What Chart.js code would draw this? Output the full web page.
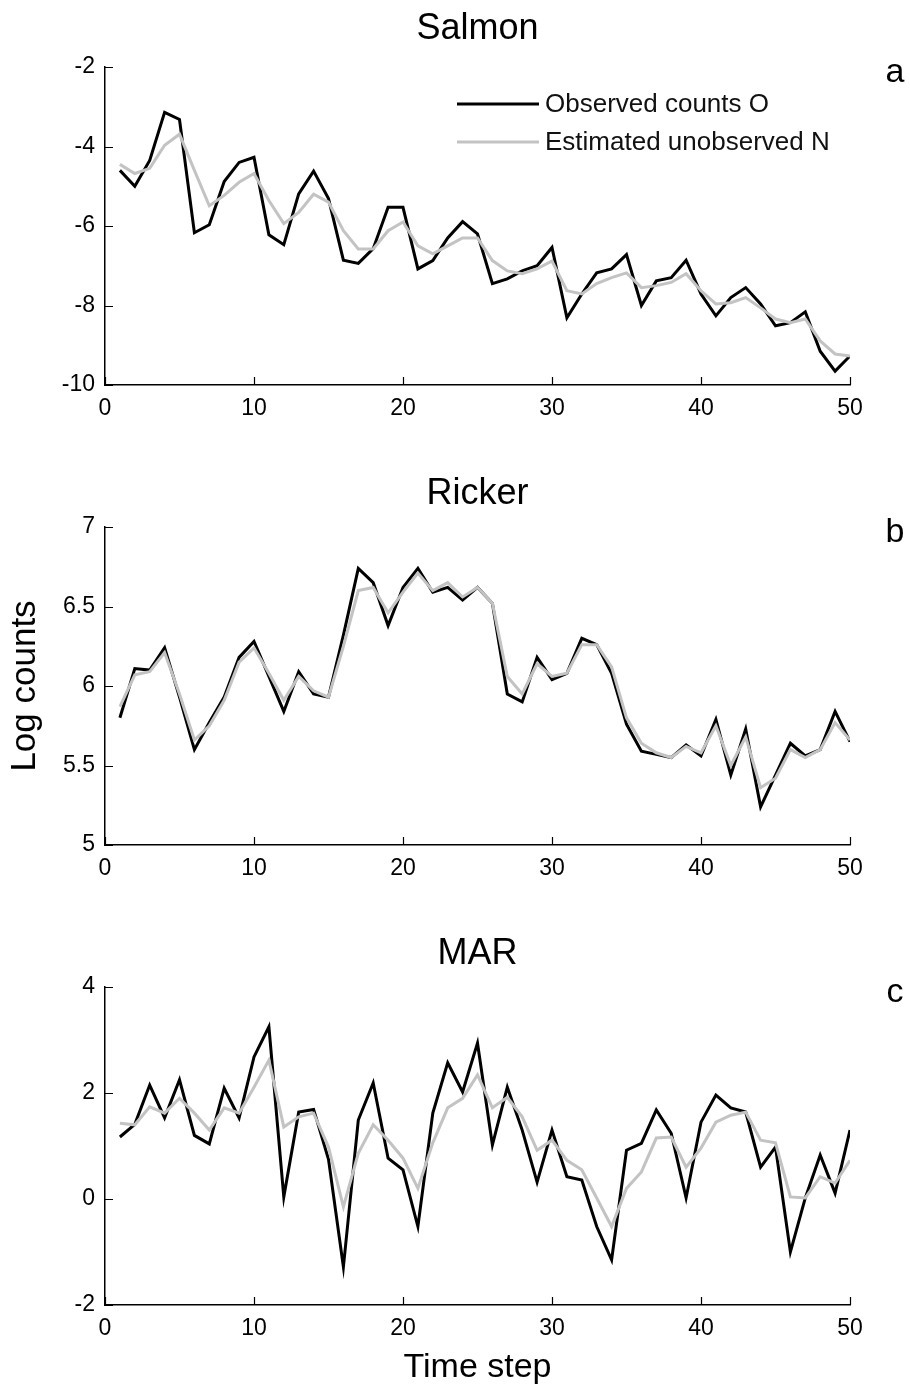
<!DOCTYPE html>
<html>
<head>
<meta charset="utf-8">
<title>Observed vs estimated log counts</title>
<script src="https://cdn.jsdelivr.net/npm/chart.js@4.4.0/dist/chart.umd.min.js"></script>
<style>
  html, body { margin: 0; padding: 0; background: #fff; }
  #figure { position: relative; width: 910px; height: 1391px; }
  #figure canvas { position: absolute; left: 0; }
</style>
</head>
<body>
<div id="figure">
  <canvas id="chartSalmon" width="910" height="450" style="top:0"></canvas>
  <canvas id="chartRicker" width="910" height="460" style="top:450px"></canvas>
  <canvas id="chartMar" width="910" height="481" style="top:910px"></canvas>
</div>
<script>
const timeSteps = [1, 2, 3, 4, 5, 6, 7, 8, 9, 10, 11, 12, 13, 14, 15, 16, 17, 18, 19, 20,
  21, 22, 23, 24, 25, 26, 27, 28, 29, 30, 31, 32, 33, 34, 35, 36, 37, 38, 39, 40,
  41, 42, 43, 44, 45, 46, 47, 48, 49, 50];

const salmonObserved = [-4.60, -5.00, -4.35, -3.14, -3.32, -6.17, -5.97, -4.88, -4.40, -4.27,
  -6.22, -6.47, -5.19, -4.62, -5.31, -6.86, -6.94, -6.57, -5.53, -5.53,
  -7.08, -6.87, -6.30, -5.89, -6.20, -7.45, -7.33, -7.13, -7.00, -6.54,
  -8.31, -7.71, -7.18, -7.08, -6.72, -8.00, -7.38, -7.30, -6.86, -7.71,
  -8.26, -7.80, -7.55, -7.96, -8.51, -8.43, -8.16, -9.15, -9.65, -9.27];
const salmonEstimated = [-4.45, -4.68, -4.55, -3.97, -3.69, -4.60, -5.49, -5.23, -4.90, -4.68,
  -5.36, -5.94, -5.66, -5.20, -5.40, -6.12, -6.58, -6.58, -6.12, -5.90,
  -6.50, -6.70, -6.50, -6.30, -6.30, -6.87, -7.13, -7.20, -7.08, -6.88,
  -7.63, -7.71, -7.45, -7.30, -7.18, -7.55, -7.50, -7.42, -7.20, -7.63,
  -7.96, -7.93, -7.80, -8.06, -8.34, -8.43, -8.34, -8.89, -9.22, -9.27];

const rickerObserved = [5.80, 6.11, 6.10, 6.24, 5.93, 5.60, 5.77, 5.93, 6.18, 6.28,
  6.06, 5.84, 6.09, 5.95, 5.93, 6.32, 6.74, 6.65, 6.38, 6.62,
  6.74, 6.59, 6.62, 6.54, 6.62, 6.52, 5.95, 5.90, 6.18, 6.04,
  6.08, 6.30, 6.26, 6.08, 5.76, 5.59, 5.57, 5.55, 5.63, 5.56,
  5.79, 5.44, 5.73, 5.24, 5.44, 5.64, 5.56, 5.60, 5.84, 5.65];
const rickerEstimated = [5.87, 6.07, 6.09, 6.21, 5.95, 5.66, 5.75, 5.91, 6.15, 6.24,
  6.08, 5.91, 6.06, 5.97, 5.93, 6.25, 6.60, 6.62, 6.46, 6.59,
  6.71, 6.60, 6.65, 6.56, 6.62, 6.52, 6.06, 5.95, 6.14, 6.06,
  6.08, 6.26, 6.26, 6.12, 5.80, 5.64, 5.58, 5.55, 5.62, 5.58,
  5.75, 5.50, 5.68, 5.36, 5.42, 5.60, 5.55, 5.60, 5.77, 5.66];

const marObserved = [1.17, 1.41, 2.15, 1.53, 2.25, 1.20, 1.04, 2.09, 1.53, 2.68,
  3.25, 0.04, 1.64, 1.69, 0.75, -1.28, 1.49, 2.19, 0.77, 0.55,
  -0.52, 1.62, 2.57, 2.02, 2.94, 1.02, 2.11, 1.30, 0.32, 1.30,
  0.42, 0.36, -0.52, -1.15, 0.92, 1.05, 1.68, 1.24, 0.02, 1.45,
  1.96, 1.72, 1.64, 0.60, 0.98, -1.00, 0.02, 0.83, 0.11, 1.30];
const marEstimated = [1.43, 1.40, 1.74, 1.62, 1.90, 1.62, 1.30, 1.72, 1.62, 2.11,
  2.62, 1.36, 1.55, 1.62, 0.98, -0.15, 0.86, 1.40, 1.11, 0.77,
  0.20, 1.06, 1.72, 1.90, 2.34, 1.72, 1.92, 1.55, 0.92, 1.11,
  0.73, 0.55, 0.02, -0.52, 0.20, 0.51, 1.15, 1.17, 0.60, 0.96,
  1.45, 1.58, 1.64, 1.11, 1.06, 0.04, 0.02, 0.42, 0.30, 0.73];

const xTicks = [0, 10, 20, 30, 40, 50];

(() => {
  const FONT = "'Liberation Sans', Arial, Helvetica, sans-serif";
  const OBS_COLOR = "#000000";
  const EST_COLOR = "#c3c3c3";

  Chart.defaults.font.family = FONT;
  Chart.defaults.color = "#000";

  function toPoints(values) {
    return values.map((v, i) => ({ x: timeSteps[i], y: v }));
  }

  // matlab style ticks pointing into the axes
  const inwardTicks = {
    id: "inwardTicks",
    afterDraw(chart) {
      const { ctx, chartArea, scales } = chart;
      ctx.save();
      ctx.strokeStyle = "#000";
      ctx.lineWidth = 1.2;
      ctx.beginPath();
      scales.x.ticks.forEach((t) => {
        const px = Math.round(scales.x.getPixelForValue(t.value)) + 0.5;
        ctx.moveTo(px, chartArea.bottom);
        ctx.lineTo(px, chartArea.bottom - 8);
      });
      scales.y.ticks.forEach((t) => {
        const py = Math.round(scales.y.getPixelForValue(t.value)) + 0.5;
        ctx.moveTo(chartArea.left, py);
        ctx.lineTo(chartArea.left + 8, py);
      });
      ctx.stroke();
      ctx.restore();
    },
  };

  // title centred over the plot area (not the canvas), plus the panel letter
  const panelText = {
    id: "panelText",
    afterDraw(chart, args, opts) {
      if (!opts) return;
      const { ctx, chartArea } = chart;
      ctx.save();
      ctx.fillStyle = "#000";
      ctx.textAlign = "center";
      ctx.textBaseline = "middle";
      if (opts.title) {
        ctx.font = `36px ${FONT}`;
        ctx.fillText(opts.title, (chartArea.left + chartArea.right) / 2, chartArea.top - opts.titleGap);
      }
      if (opts.letter) {
        ctx.font = `34px ${FONT}`;
        ctx.textBaseline = "alphabetic";
        ctx.fillText(opts.letter, chartArea.right + 45, chartArea.top + 15);
      }
      ctx.restore();
    },
  };

  // legend drawn inside the first panel, top right
  const insideLegend = {
    id: "insideLegend",
    afterDraw(chart, args, opts) {
      if (!opts || !opts.display) return;
      const { ctx, chartArea } = chart;
      const rows = chart.data.datasets.slice().reverse();
      ctx.save();
      ctx.font = `26px ${FONT}`;
      ctx.textAlign = "left";
      ctx.textBaseline = "middle";
      rows.forEach((ds, i) => {
        const y = chartArea.top + 37 + i * 38;
        const x0 = chartArea.left + 352;
        ctx.strokeStyle = ds.borderColor;
        ctx.lineWidth = 3;
        ctx.beginPath();
        ctx.moveTo(x0, y);
        ctx.lineTo(x0 + 82, y);
        ctx.stroke();
        ctx.fillStyle = "#111";
        ctx.fillText(ds.label, x0 + 88, y + 1);
      });
      ctx.restore();
    },
  };

  function makePanel(canvasId, cfg) {
    const canvas = document.getElementById(canvasId);
    if (!canvas) {
      return null;
    }
    return new Chart(canvas, {
      type: "line",
      data: {
        datasets: [
          {
            label: "Estimated unobserved N",
            data: toPoints(cfg.estimated),
            borderColor: EST_COLOR,
            borderWidth: 3,
            pointRadius: 0,
            tension: 0,
            fill: false,
          },
          {
            label: "Observed counts O",
            data: toPoints(cfg.observed),
            borderColor: OBS_COLOR,
            borderWidth: 3,
            pointRadius: 0,
            tension: 0,
            fill: false,
          },
        ],
      },
      options: {
        responsive: false,
        animation: false,
        layout: { padding: { left: 0, right: 60, top: cfg.plotTop, bottom: 0 } },
        plugins: {
          legend: { display: false },
          tooltip: { enabled: false },
          title: { display: false },
          panelText: { title: cfg.title, titleGap: cfg.titleGap, letter: cfg.letter },
          insideLegend: { display: !!cfg.legend },
        },
        scales: {
          x: {
            type: "linear",
            min: 0,
            max: 50,
            afterBuildTicks(scale) {
              scale.ticks = xTicks.map((v) => ({ value: v }));
            },
            afterFit(scale) {
              scale.height = cfg.xHeight;
            },
            grid: { display: false, drawTicks: false },
            border: { display: true, color: "#000", width: 1.5 },
            ticks: { padding: 10, font: { size: 23 }, color: "#000" },
            title: {
              display: !!cfg.xTitle,
              text: cfg.xTitle || "",
              font: { size: 34 },
              color: "#000",
              padding: { top: 0, bottom: 3 },
            },
          },
          y: {
            type: "linear",
            min: cfg.yMin,
            max: cfg.yMax,
            afterBuildTicks(scale) {
              scale.ticks = cfg.yTicks.map((v) => ({ value: v }));
            },
            afterFit(scale) {
              scale.width = 105;
            },
            grid: { display: false, drawTicks: false },
            border: { display: true, color: "#000", width: 1.5 },
            ticks: {
              padding: 10,
              font: { size: 23 },
              color: "#000",
              callback: (v) => String(v),
            },
            title: {
              display: !!cfg.yTitle,
              text: cfg.yTitle || "",
              font: { size: 35 },
              color: "#000",
              padding: { top: 4, bottom: 0 },
            },
          },
        },
      },
      plugins: [inwardTicks, panelText, insideLegend],
    });
  }

  makePanel("chartSalmon", {
    title: "Salmon",
    letter: "a",
    legend: true,
    observed: salmonObserved,
    estimated: salmonEstimated,
    yMin: -10,
    yMax: -2,
    yTicks: [-10, -8, -6, -4, -2],
    plotTop: 67,
    titleGap: 38,
    xHeight: 65,
  });

  makePanel("chartRicker", {
    title: "Ricker",
    letter: "b",
    observed: rickerObserved,
    estimated: rickerEstimated,
    yMin: 5,
    yMax: 7,
    yTicks: [5, 5.5, 6, 6.5, 7],
    yTitle: "Log counts",
    plotTop: 77,
    titleGap: 33,
    xHeight: 65,
  });

  makePanel("chartMar", {
    title: "MAR",
    letter: "c",
    observed: marObserved,
    estimated: marEstimated,
    yMin: -2,
    yMax: 4,
    yTicks: [-2, 0, 2, 4],
    xTitle: "Time step",
    plotTop: 77,
    titleGap: 33,
    xHeight: 86,
  });
})();
</script>
</body>
</html>
